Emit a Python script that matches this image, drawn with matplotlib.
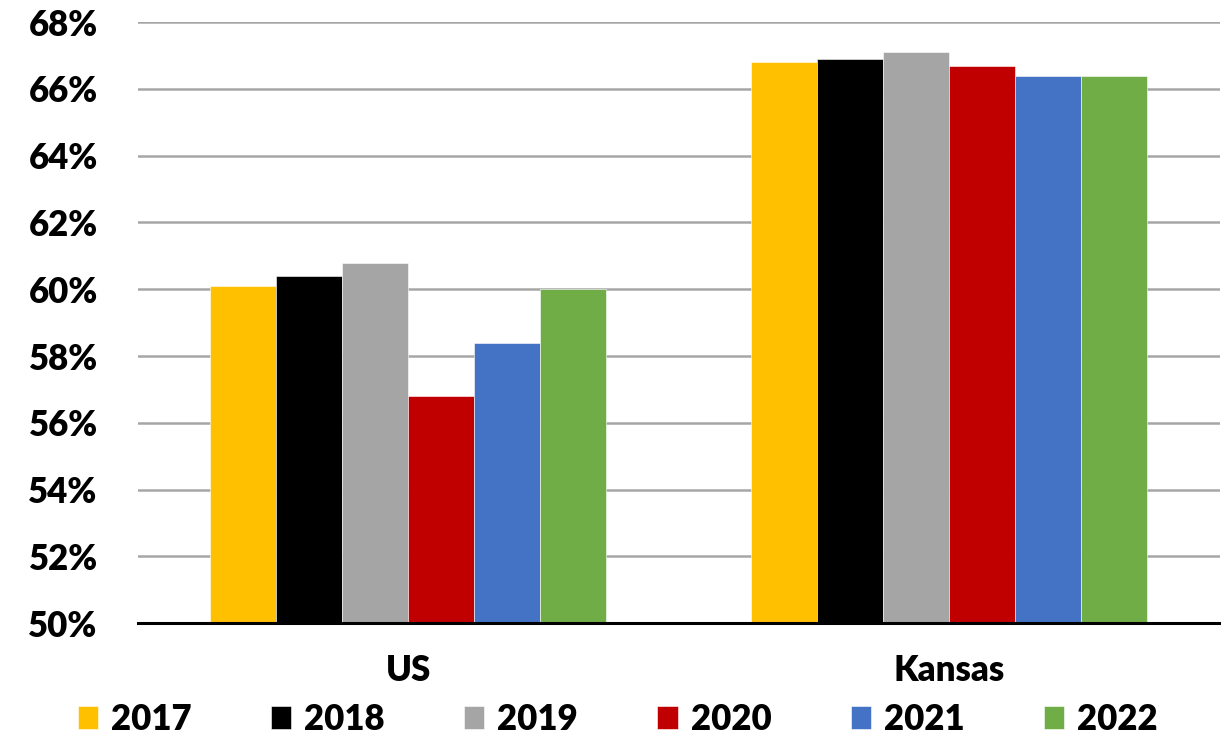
import numpy as np
import matplotlib.pyplot as plt
from matplotlib.ticker import FuncFormatter

plt.rcParams["font.family"] = ["Lato", "DejaVu Sans"]
plt.rcParams["font.weight"] = "bold"

regions = ["US", "Kansas"]
years = ["2017", "2018", "2019", "2020", "2021", "2022"]
colors = ["#FFC000", "#000000", "#A5A5A5", "#C00000", "#4472C4", "#70AD47"]

# share of population, percent, one list per year: [US, Kansas]
values = {
    "2017": [60.1, 66.8],
    "2018": [60.4, 66.9],
    "2019": [60.8, 67.1],
    "2020": [56.8, 66.7],
    "2021": [58.4, 66.4],
    "2022": [60.0, 66.4],
}

fig = plt.figure(figsize=(12.21, 7.40), dpi=100)
ax = fig.add_axes([0.113, 0.158, 0.886, 0.812])

x = np.arange(len(regions))
width = 0.122
for i, (yr, col) in enumerate(zip(years, colors)):
    offset = (i - (len(years) - 1) / 2) * width
    ax.bar(x + offset, values[yr], width, bottom=0, color=col,
           edgecolor="white", linewidth=0.4, label=yr, zorder=3)

ax.set_ylim(50, 68)
ax.set_xlim(-0.5, 1.5)
ax.set_yticks(np.arange(50, 69, 2))
ax.yaxis.set_major_formatter(FuncFormatter(lambda v, _: f"{v:.0f}%"))
ax.grid(axis="y", color="#A6A6A6", linewidth=1.8, zorder=0)
ax.set_axisbelow(True)

for side in ["top", "right", "left"]:
    ax.spines[side].set_visible(False)
ax.spines["bottom"].set_linewidth(2.2)
ax.spines["bottom"].set_zorder(4)

ax.set_xticks(x)
ax.set_xticklabels(regions)
ax.tick_params(axis="both", length=0, labelsize=25)
ax.tick_params(axis="y", pad=29)
ax.tick_params(axis="x", pad=22)
for lbl in ax.get_xticklabels() + ax.get_yticklabels():
    lbl.set_fontweight("heavy")

leg = fig.legend(loc="center", bbox_to_anchor=(0.506, 0.028), ncol=6,
                 frameon=False, fontsize=25, handlelength=0.58,
                 handleheight=0.62, handletextpad=0.38, columnspacing=2.28,
                 borderpad=0)
for t in leg.get_texts():
    t.set_fontweight("heavy")

fig.savefig("out.png", dpi=100)
